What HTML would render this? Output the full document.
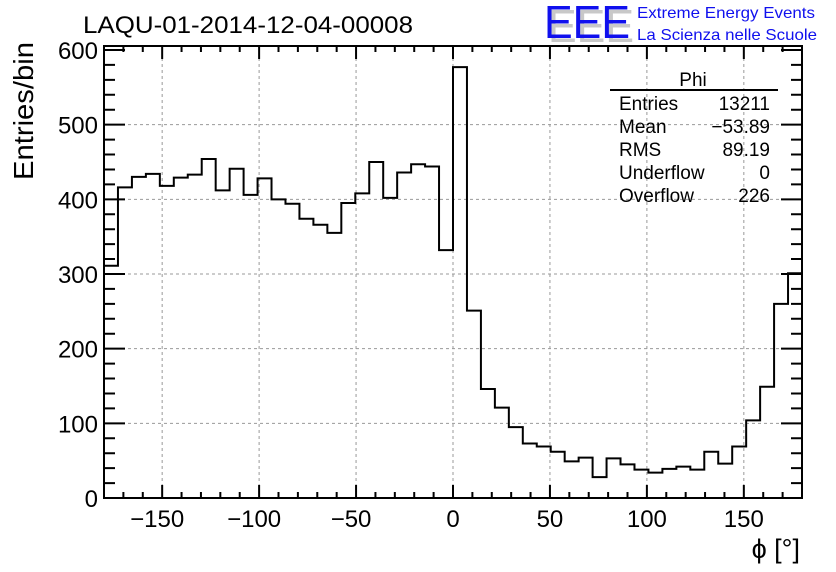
<!DOCTYPE html>
<html><head><meta charset="utf-8"><style>
html,body{margin:0;padding:0;background:#fff;}
svg{display:block;font-family:"Liberation Sans",sans-serif;}
</style></head><body>
<svg id="chart" width="836" height="572" viewBox="0 0 836 572">
<text x="83" y="33" font-size="24" textLength="330" lengthAdjust="spacingAndGlyphs">LAQU-01-2014-12-04-00008</text>
<g>
<text x="548" y="42" font-size="46" fill="#c8c8c8" textLength="86" lengthAdjust="spacingAndGlyphs">EEE</text>
<text x="544" y="38" font-size="46" fill="#1010ee" textLength="86" lengthAdjust="spacingAndGlyphs">EEE</text>
<text x="637" y="18" font-size="16" fill="#1010ee" textLength="178" lengthAdjust="spacingAndGlyphs">Extreme Energy Events</text>
<text x="637" y="40" font-size="16" fill="#1010ee" textLength="180" lengthAdjust="spacingAndGlyphs">La Scienza nelle Scuole</text>
</g>
<g id="grid"></g>
<g id="ticks"></g>
<path id="hist" fill="none" stroke="#000" stroke-width="2"/>
<rect x="104" y="46" width="698" height="452" fill="none" stroke="#000" stroke-width="2"/>
<g id="labels" font-size="24"></g>
<text transform="translate(33,180) rotate(-90)" font-size="28" textLength="138" lengthAdjust="spacingAndGlyphs">Entries/bin</text>
<text x="800" y="558" font-size="27" text-anchor="end">ϕ [°]</text>
<g font-size="19">
<text x="693" y="86" text-anchor="middle">Phi</text>
<line x1="610" y1="90" x2="778" y2="90" stroke="#000" stroke-width="2"/>
<text x="619" y="110">Entries</text><text x="770" y="110" text-anchor="end">13211</text>
<text x="619" y="133">Mean</text><text x="770" y="133" text-anchor="end">−53.89</text>
<text x="619" y="156">RMS</text><text x="770" y="156" text-anchor="end">89.19</text>
<text x="619" y="179">Underflow</text><text x="770" y="179" text-anchor="end">0</text>
<text x="619" y="202">Overflow</text><text x="770" y="202" text-anchor="end">226</text>
</g>
</svg>
<script>
const binCounts = [311,416,430,434,418,429,433,454,412,441,406,428,400,394,374,366,355,395,408,450,402,436,447,444,332,577,251,146,121,95,73,69,62,49,54,28,53,45,38,34,39,42,38,62,46,69,104,149,260,301];
const xTicks = [-150,-100,-50,0,50,100,150];
const yTicks = [0,100,200,300,400,500,600];
const xMin=-180, xMax=180;
const NS="http://www.w3.org/2000/svg";
function sx(v){return 104+(v-xMin)/(xMax-xMin)*698;}
function sy(v){return 498-v*0.7467;}
function mk(tag,attrs,parent){const e=document.createElementNS(NS,tag);for(const k in attrs)e.setAttribute(k,attrs[k]);parent.appendChild(e);return e;}
const grid=document.getElementById('grid'),ticks=document.getElementById('ticks'),labels=document.getElementById('labels');
xTicks.forEach(t=>{const l=mk('line',{x1:sx(t),x2:sx(t),y1:46,y2:498,stroke:'#999','stroke-dasharray':'3,3'},grid);


const tx=mk('text',{x:sx(t)-(t<0?5:0),y:527,'text-anchor':'middle'},labels);tx.textContent=t<0?'−'+(-t):String(t);

});
yTicks.forEach(t=>{if(t>0&&t<600){const l=mk('line',{x1:104,x2:802,y1:sy(t),y2:sy(t),stroke:'#999','stroke-dasharray':'3,3'},grid);

}
const tx=mk('text',{x:98,y:sy(t)+9,'text-anchor':'end'},labels);tx.textContent=String(t);

});
let d='';
for(let v=-180;v<=180;v+=10){const maj=v%50===0;const len=maj?13:6;const x=sx(v);d+=`M${x},498V${498-len}M${x},46V${46+len}`;}
for(let v=0;v<=600;v+=20){const maj=v%100===0;const len=maj?21:11;const y=sy(v);d+=`M104,${y}H${104+len}M802,${y}H${802-len}`;}
const tk=mk('path',{d:d,stroke:'#000','stroke-width':2,fill:'none'},ticks);


const bw=(xMax-xMin)/binCounts.length;
let p=`M${sx(xMin)},${sy(0)}`;
binCounts.forEach((c,i)=>{p+=`V${sy(c)}H${sx(xMin+(i+1)*bw)}`;});
document.getElementById('hist').setAttribute('d',p);
</script>
</body></html>
